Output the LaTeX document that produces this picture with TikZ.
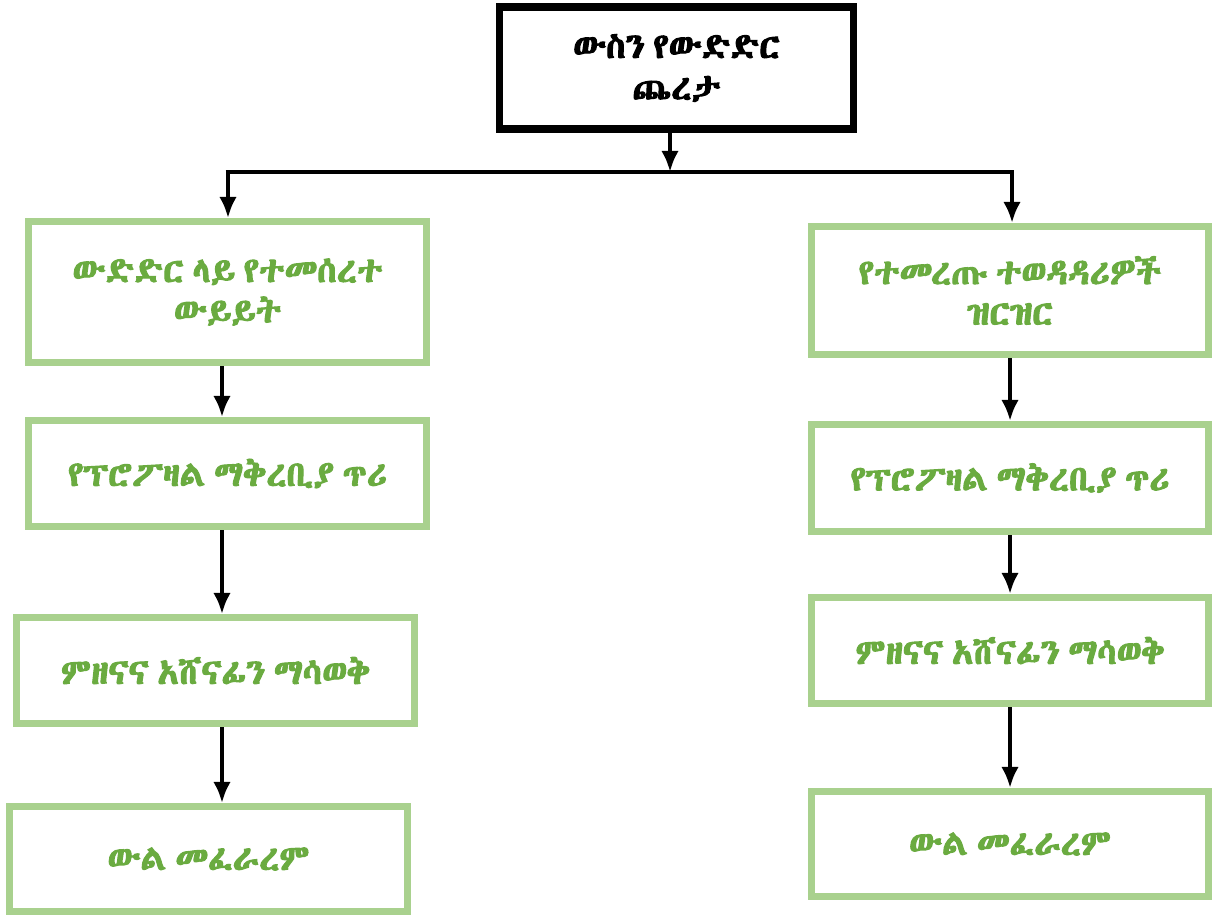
\documentclass[tikz,border=0pt]{standalone}
\usepackage{fontspec}
\usepackage{xcolor}
\usepackage{tikz}
\usetikzlibrary{arrows.meta}
\newfontfamily\ethfont[Script=Ethiopic,WordSpace=0.55,BoldFont=*,BoldFeatures={FakeBold=3}]{Abyssinica SIL}
\definecolor{boxgreen}{HTML}{A9D18E}
\definecolor{textgreen}{HTML}{6AAB40}
\tikzstyle{node:top}=[rectangle,draw=black,line width=4pt,fill=white,minimum width=7.1cm,minimum height=2.44cm,align=center,font=\ethfont\bfseries\fontsize{20}{23.5}\selectfont]
\tikzstyle{node:step}=[rectangle,draw=boxgreen,line width=4pt,fill=white,minimum width=7.95cm,align=center,text=textgreen,font=\ethfont\bfseries\fontsize{20}{23}\selectfont]
\tikzstyle{draw:connection}=[-{Latex[length=12pt,width=10pt]}, line width=2.6pt]
\tikzstyle{draw:bar}=[line width=2.6pt]

\begin{document}
\begin{tikzpicture}[x=0.02cm, y=-0.02cm]
        \useasboundingbox (0,0) rectangle (1212,916);

        % Top box
        \node[node:top] (top) at (676.5,68) {ውስን የውድድር\\ጨረታ};

        % Left column
        \node[node:step, minimum height=2.82cm] (left1) at (227.5,292) {ውድድር ላይ የተመሰረተ\\ውይይት};
        \node[node:step, minimum height=2.12cm] (left2) at (227.5,473.5) {የፕሮፖዛል ማቅረቢያ ጥሪ};
        \node[node:step, minimum height=2.12cm] (left3) at (215.5,670.5) {ምዘናና አሸናፊን ማሳወቅ};
        \node[node:step, minimum height=2.1cm] (left4) at (208.5,859) {ውል መፈራረም};

        % Right column
        \node[node:step, minimum height=2.56cm] (right1) at (1010,290.5) {የተመረጡ ተወዳዳሪዎች\\ዝርዝር};
        \node[node:step, minimum height=2.14cm] (right2) at (1010,478) {የፕሮፖዛል ማቅረቢያ ጥሪ};
        \node[node:step, minimum height=2.12cm] (right3) at (1010,650.5) {ምዘናና አሸናፊን ማሳወቅ};
        \node[node:step, minimum height=2.1cm] (right4) at (1010,844) {ውል መፈራረም};

        % Split
        \coordinate (split) at (670,172);
        \coordinate (lcorner) at (228,172);
        \coordinate (rcorner) at (1012,172);
        \coordinate (lx) at (222,0);

        \draw[draw:connection] (top.south -| split) -- (split);
        \draw[draw:bar] ([xshift=-1.3pt]lcorner) -- ([xshift=1.3pt]rcorner);
        \draw[draw:connection] (lcorner) -- (lcorner |- left1.north);
        \draw[draw:connection] (rcorner) -- (rcorner |- right1.north);

        % Left chain
        \draw[draw:connection] (left1.south -| lx) -- (left2.north -| lx);
        \draw[draw:connection] (left2.south -| lx) -- (left3.north -| lx);
        \draw[draw:connection] (left3.south -| lx) -- (left4.north -| lx);

        % Right chain
        \draw[draw:connection] (right1) -- (right2);
        \draw[draw:connection] (right2) -- (right3);
        \draw[draw:connection] (right3) -- (right4);

    \end{tikzpicture}
\end{document}
